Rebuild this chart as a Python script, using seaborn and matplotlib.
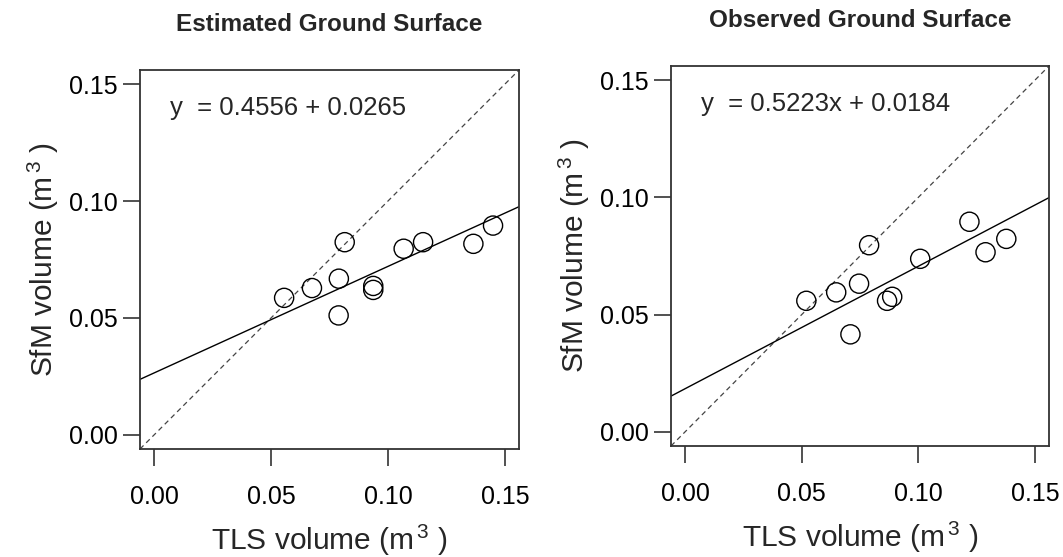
import numpy as np
import pandas as pd
import matplotlib
matplotlib.use("Agg")
import matplotlib.pyplot as plt
import seaborn as sns

# ---- data ----
est_tls = [0.0556, 0.0675, 0.0790, 0.0815, 0.0789, 0.0937, 0.0937, 0.1067, 0.1150, 0.1365, 0.1449]
est_sfm = [0.0586, 0.0628, 0.0668, 0.0824, 0.0511, 0.0637, 0.0620, 0.0796, 0.0824, 0.0817, 0.0895]
est_coef = [0.4556, 0.0265]  # slope, intercept

obs_tls = [0.0520, 0.0648, 0.0746, 0.0789, 0.0709, 0.0866, 0.0888, 0.1008, 0.1219, 0.1288, 0.1377]
obs_sfm = [0.0559, 0.0595, 0.0632, 0.0796, 0.0416, 0.0559, 0.0576, 0.0738, 0.0896, 0.0766, 0.0823]
obs_coef = [0.5223, 0.0184]

titles = ["Estimated Ground Surface", "Observed Ground Surface"]
equations = ["y  = 0.4556 + 0.0265", "y  = 0.5223x + 0.0184"]
ticks = [0.00, 0.05, 0.10, 0.15]
tick_labels = ["0.00", "0.05", "0.10", "0.15"]

sns.set_style("ticks")
plt.rcParams['font.family'] = ['Liberation Sans', 'DejaVu Sans']
plt.rcParams['mathtext.fontset'] = 'custom'
plt.rcParams['mathtext.rm'] = 'Liberation Sans'
plt.rcParams['mathtext.it'] = 'Liberation Sans'

fig = plt.figure(figsize=(10.63, 5.57), dpi=100)
W, H = 1063, 557
boxes = [(140, 70, 519, 449), (671, 66, 1049, 446)]

datasets = [(est_tls, est_sfm, est_coef), (obs_tls, obs_sfm, obs_coef)]
edge = "#333333"
for i, (bx, (xs, ys, coef)) in enumerate(zip(boxes, datasets)):
    l, t, r, b = bx
    ax = fig.add_axes([l / W, 1 - b / H, (r - l) / W, (b - t) / H])
    df = pd.DataFrame({"tls": xs, "sfm": ys})
    lo, hi = -0.006, 0.156
    # 1:1 line
    ax.plot([lo, hi], [lo, hi], ls=(0, (4, 3)), color="#444444", lw=0.9)
    # fit line
    xx = np.array([lo, hi])
    ax.plot(xx, coef[0] * xx + coef[1], color="black", lw=1.0)
    sns.scatterplot(data=df, x="tls", y="sfm", ax=ax, s=190, marker="o",
                    facecolor="none", edgecolor="black", linewidth=1.0, zorder=3)
    ax.set_xlim(lo, hi)
    ax.set_ylim(lo, hi)
    ax.set_xticks(ticks)
    ax.set_xticklabels(tick_labels)
    ax.set_yticks(ticks)
    ax.set_yticklabels(tick_labels)
    ax.tick_params(axis="both", length=12, width=1.2, color=edge, labelsize=18,
                   labelcolor="black")
    ax.tick_params(axis="x", pad=14)
    ax.tick_params(axis="y", pad=4)
    for sp in ax.spines.values():
        sp.set_visible(True)
        sp.set_color(edge)
        sp.set_linewidth(1.3)
    ax.set_xlabel("TLS volume (m$^{\\,3}$ )", fontsize=21.5, labelpad=10)
    ax.set_ylabel("SfM volume (m$^{\\,3}$ )", fontsize=21.5, labelpad=6)
    ax.set_title(titles[i], fontsize=17.5, fontweight="bold", pad=28)
    ax.text(0.08, 0.9, equations[i], transform=ax.transAxes, fontsize=18.5,
            ha="left", va="center")

fig.savefig("out.png", dpi=100)
